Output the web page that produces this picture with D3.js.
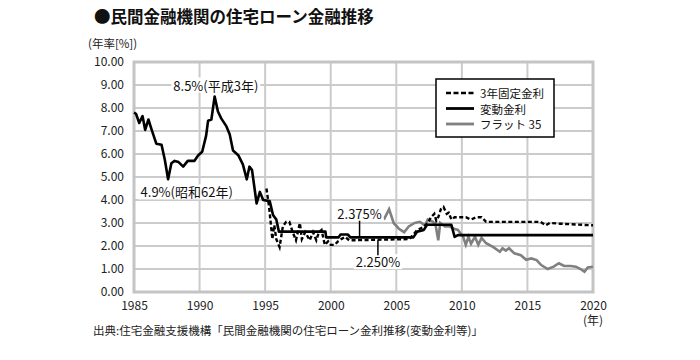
<!DOCTYPE html>
<html>
<head>
<meta charset="utf-8">
<script src="https://cdn.jsdelivr.net/npm/d3@7"></script>
<style>
  body { margin: 0; background: #fff; }
  svg { font-family: "Noto Sans CJK JP", "Noto Sans", sans-serif; }
</style>
</head>
<body>
<div class="chart"></div>
<script>
// 変動金利
const hendoYears = [1985.0, 1985.15, 1985.4, 1985.65, 1985.85, 1986.1, 1986.35, 1986.7, 1987.1, 1987.35, 1987.6, 1987.85, 1988.1, 1988.4, 1988.75, 1989.1, 1989.6, 1989.9, 1990.2, 1990.5, 1990.65, 1990.9, 1991.15, 1991.4, 1991.65, 1992.05, 1992.3, 1992.55, 1992.95, 1993.3, 1993.6, 1993.8, 1994.0, 1994.35, 1994.6, 1994.85, 1995.35, 1995.6, 1995.85, 1996.05, 1999.6, 1999.65, 2000.6, 2000.75, 2001.3, 2001.5, 2006.3, 2006.6, 2007.1, 2007.35, 2009.2, 2009.45, 2009.7, 2020.0];
const hendoValues = [7.8, 7.75, 7.35, 7.65, 7.05, 7.5, 7.05, 6.45, 6.4, 5.75, 4.9, 5.6, 5.7, 5.65, 5.45, 5.7, 5.7, 5.95, 6.1, 6.8, 7.45, 7.5, 8.5, 7.85, 7.55, 7.2, 6.85, 6.15, 5.95, 5.55, 4.9, 5.45, 5.3, 3.85, 4.35, 4.0, 3.95, 3.35, 3.15, 2.625, 2.625, 2.375, 2.375, 2.5, 2.5, 2.375, 2.375, 2.625, 2.7, 2.925, 2.925, 2.4, 2.475, 2.475];

// 3年固定金利
const koteiYears = [1995.1, 1995.3, 1995.55, 1995.7, 1995.85, 1996.1, 1996.35, 1996.6, 1996.85, 1997.1, 1997.35, 1997.65, 1997.8, 1998.05, 1998.4, 1998.65, 1998.9, 1999.1, 1999.3, 1999.55, 1999.8, 2000.0, 2000.3, 2000.55, 2000.8, 2001.1, 2001.4, 2001.7, 2006.0, 2006.3, 2006.6, 2007.0, 2007.4, 2007.65, 2007.9, 2008.05, 2008.2, 2008.4, 2008.6, 2008.85, 2009.0, 2009.2, 2009.45, 2010.3, 2010.7, 2011.1, 2011.5, 2011.85, 2016.0, 2016.4, 2016.7, 2017.5, 2018.8, 2020.0];
const koteiValues = [4.5, 3.7, 2.3, 2.9, 2.3, 1.95, 2.85, 3.05, 3.05, 2.6, 2.25, 3.0, 2.3, 2.6, 2.25, 2.6, 2.25, 2.6, 2.7, 2.05, 2.2, 2.05, 2.05, 2.2, 2.3, 2.4, 2.25, 2.25, 2.3, 2.5, 2.7, 2.8, 3.0, 3.25, 3.4, 3.1, 3.25, 3.6, 3.7, 3.4, 3.45, 3.15, 3.25, 3.25, 3.15, 3.25, 3.25, 3.05, 3.05, 2.9, 3.0, 2.97, 2.93, 2.9];

// フラット35
const flatYears = [2003.8, 2004.1, 2004.45, 2004.8, 2005.2, 2005.6, 2005.95, 2006.4, 2006.8, 2007.2, 2007.4, 2007.8, 2008.0, 2008.2, 2008.35, 2008.7, 2009.05, 2009.4, 2009.7, 2010.1, 2010.3, 2010.5, 2010.7, 2011.0, 2011.25, 2011.5, 2011.85, 2012.4, 2012.9, 2013.1, 2013.35, 2013.6, 2014.0, 2014.5, 2014.9, 2015.3, 2015.7, 2016.05, 2016.55, 2017.0, 2017.4, 2017.8, 2018.3, 2018.7, 2019.05, 2019.35, 2019.6, 2020.0];
const flatValues = [3.3, 3.2, 3.6, 3.0, 2.75, 2.6, 2.85, 3.0, 3.05, 2.9, 3.15, 3.05, 2.9, 2.25, 3.0, 2.85, 2.85, 2.75, 2.7, 2.4, 2.05, 2.4, 2.1, 2.4, 2.05, 2.35, 2.12, 1.95, 1.75, 1.9, 1.8, 1.9, 1.68, 1.6, 1.4, 1.46, 1.39, 1.17, 1.0, 1.1, 1.25, 1.13, 1.13, 1.1, 1.0, 0.88, 1.07, 1.1];

const xTicks = [1985, 1990, 1995, 2000, 2005, 2010, 2015, 2020];
const yTicks = [0, 1, 2, 3, 4, 5, 6, 7, 8, 9, 10];
const legendLabels = ["3年固定金利", "変動金利", "フラット 35"];

const w = 700;
const h = 360;
const plotLeft = 134, plotRight = 593, plotTop = 62, plotBottom = 292;

const svg = d3.select(".chart").append("svg")
  .attr("width", w)
  .attr("height", h);

const xScale = d3.scaleLinear().domain([1985, 2020]).range([plotLeft, plotRight]);
const yScale = d3.scaleLinear().domain([0, 10]).range([plotBottom, plotTop]);

// title
svg.append("text")
  .attr("x", 94).attr("y", 23)
  .attr("font-size", 16.5).attr("font-weight", "bold")
  .attr("fill", "#111")
  .text("●民間金融機関の住宅ローン金融推移");

svg.append("text")
  .attr("x", 88).attr("y", 48)
  .attr("font-size", 11.5).attr("fill", "#222")
  .text("(年率[%])");

// grid
const grid = svg.append("g").attr("stroke", "#cbcbcb").attr("stroke-width", 2);
grid.selectAll(".gy").data(yTicks).enter().append("line")
  .attr("x1", plotLeft).attr("x2", plotRight)
  .attr("y1", d => yScale(d)).attr("y2", d => yScale(d));
grid.selectAll(".gx").data(xTicks).enter().append("line")
  .attr("y1", plotTop).attr("y2", plotBottom)
  .attr("x1", d => xScale(d)).attr("x2", d => xScale(d));
svg.append("rect")
  .attr("x", plotLeft).attr("y", plotTop)
  .attr("width", plotRight - plotLeft).attr("height", plotBottom - plotTop)
  .attr("fill", "none").attr("stroke", "#c4c4c4").attr("stroke-width", 3);

// axes (labels only)
const yAxis = d3.axisLeft(yScale).tickValues(yTicks).tickFormat(d3.format(".2f")).tickSize(0).tickPadding(10);
const xAxis = d3.axisBottom(xScale).tickValues(xTicks).tickFormat(d3.format("d")).tickSize(0).tickPadding(9);
const gy = svg.append("g").attr("transform", "translate(" + plotLeft + ",0)").call(yAxis);
const gx = svg.append("g").attr("transform", "translate(0," + plotBottom + ")").call(xAxis);
[gx, gy].forEach(g => {
  g.select(".domain").remove();
  g.selectAll("text").attr("font-size", 12).attr("fill", "#222")
    .attr("font-family", "\"Noto Sans CJK JP\", sans-serif");
});

svg.append("text")
  .attr("x", xScale(2020)).attr("y", 325)
  .attr("text-anchor", "middle").attr("font-size", 12).attr("fill", "#222")
  .text("(年)");

svg.append("text")
  .attr("x", 93).attr("y", 335)
  .attr("font-size", 11.5).attr("fill", "#222")
  .text("出典:住宅金融支援機構「民間金融機関の住宅ローン金利推移(変動金利等)」");

// lines
const line = d3.line().x(d => xScale(d[0])).y(d => yScale(d[1]));

svg.append("path")
  .datum(d3.zip(flatYears, flatValues))
  .attr("d", line).attr("fill", "none")
  .attr("stroke", "#808080").attr("stroke-width", 2.6);

svg.append("path")
  .datum(d3.zip(koteiYears, koteiValues))
  .attr("d", line).attr("fill", "none")
  .attr("stroke", "#000").attr("stroke-width", 2.4)
  .attr("stroke-dasharray", "4,2.5");

svg.append("path")
  .datum(d3.zip(hendoYears, hendoValues))
  .attr("d", line).attr("fill", "none")
  .attr("stroke", "#000").attr("stroke-width", 2.6)
  .attr("stroke-linejoin", "round");

// annotations
function label(txt, x, y, anchor) {
  const t = svg.append("text")
    .attr("x", x).attr("y", y)
    .attr("text-anchor", anchor)
    .attr("dominant-baseline", "central")
    .attr("font-size", 13).attr("fill", "#111")
    .text(txt);
  const b = t.node().getBBox();
  svg.insert("rect", () => t.node())
    .attr("x", b.x - 2).attr("y", b.y + 2)
    .attr("width", b.width + 4).attr("height", b.height - 4)
    .attr("fill", "#fff");
}
label("8.5%(平成3年)", xScale(1988.0), yScale(9.0), "start");
label("4.9%(昭和62年)", xScale(1985.5), yScale(4.35), "start");
label("2.375%", xScale(2002.2), yScale(3.4), "middle");
label("2.250%", xScale(2003.6), yScale(1.32), "middle");

svg.append("line")
  .attr("x1", xScale(2002.2)).attr("x2", xScale(2002.2))
  .attr("y1", yScale(3.1)).attr("y2", yScale(2.375))
  .attr("stroke", "#000").attr("stroke-width", 1.5);
svg.append("line")
  .attr("x1", xScale(2003.6)).attr("x2", xScale(2003.6))
  .attr("y1", yScale(2.25)).attr("y2", yScale(1.6))
  .attr("stroke", "#000").attr("stroke-width", 1.5);

// legend
const lg = svg.append("g").attr("transform", "translate(436,79)");
lg.append("rect")
  .attr("width", 118).attr("height", 58)
  .attr("fill", "#fff").attr("stroke", "#000").attr("stroke-width", 1.5);
const legendStyles = [
  { color: "#000", dash: "5,2.5", width: 2.6 },
  { color: "#000", dash: null, width: 2.8 },
  { color: "#808080", dash: null, width: 2.8 }
];
legendLabels.forEach((name, i) => {
  const yy = 14 + i * 15.5;
  lg.append("line")
    .attr("x1", 10).attr("x2", 38).attr("y1", yy).attr("y2", yy)
    .attr("stroke", legendStyles[i].color)
    .attr("stroke-width", legendStyles[i].width)
    .attr("stroke-dasharray", legendStyles[i].dash);
  lg.append("text")
    .attr("x", 44).attr("y", yy)
    .attr("dominant-baseline", "central")
    .attr("font-size", 11.5).attr("fill", "#111")
    .text(name);
});
</script>
</body>
</html>
